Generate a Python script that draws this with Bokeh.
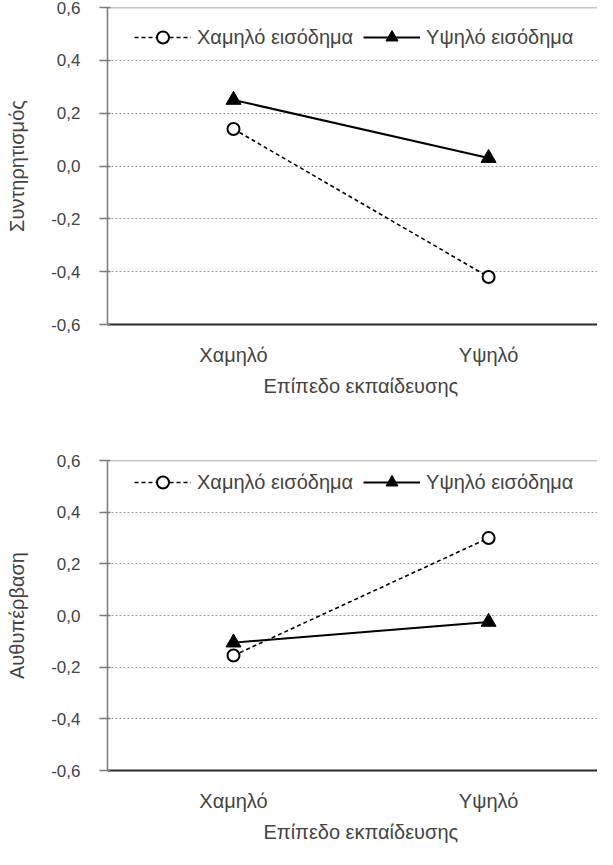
from bokeh.plotting import figure
from bokeh.models import (Range1d, FixedTicker, CustomJSTickFormatter, Span, Legend,
                          LegendItem, Title)
from bokeh.layouts import column
from bokeh.embed import file_html
from bokeh.resources import INLINE

# ---- data ----
education_levels = ["Χαμηλό", "Υψηλό"]
series_names = ["Χαμηλό εισόδημα", "Υψηλό εισόδημα"]

conservatism_low_income = [0.14, -0.42]
conservatism_high_income = [0.25, 0.03]

selftranscend_low_income = [-0.155, 0.30]
selftranscend_high_income = [-0.105, -0.025]

y_ticks = [-0.6, -0.4, -0.2, 0.0, 0.2, 0.4, 0.6]
grid_ticks = [-0.4, -0.2, 0.0, 0.2, 0.4]

y_titles = ["Συντηρητισμός", "Αυθυπέρβαση"]
x_title = "Επίπεδο εκπαίδευσης"

FONT = "Liberation Sans"
TXT = "#444444"
NUM_SIZE = "17px"
TXT_SIZE = "20px"


def make_panel(low_vals, high_vals, y_title, height, top_border, bottom_border, legend_y):
    xs = list(range(len(education_levels)))
    p = figure(width=597, height=height, output_backend="svg", toolbar_location=None,
               x_range=Range1d(-0.494, 1.427), y_range=Range1d(-0.6, 0.6),
               min_border_left=107, min_border_right=0,
               min_border_top=top_border, min_border_bottom=bottom_border)
    p.outline_line_color = None
    p.background_fill_color = "white"
    p.border_fill_color = "white"

    # grid
    p.xgrid.visible = False
    p.ygrid.ticker = FixedTicker(ticks=grid_ticks)
    p.ygrid.grid_line_color = "#9a9a9a"
    p.ygrid.grid_line_dash = "2 2"
    p.ygrid.grid_line_width = 1

    # top border line
    p.add_layout(Span(location=0.6, dimension="width", line_color="#8c8c8c", line_width=1.5))

    # y axis
    ya = p.yaxis[0]
    ya.ticker = FixedTicker(ticks=y_ticks)
    ya.formatter = CustomJSTickFormatter(code="return tick.toFixed(1).replace('.', ',');")
    ya.axis_line_color = "#7a7a7a"
    ya.axis_line_width = 1.5
    ya.major_tick_line_color = "#7a7a7a"
    ya.major_tick_line_width = 1.5
    ya.major_tick_out = 8
    ya.major_tick_in = 3
    ya.minor_tick_line_color = None
    ya.major_label_standoff = 19
    ya.major_label_text_font = FONT
    ya.major_label_text_font_size = NUM_SIZE
    ya.major_label_text_color = TXT
    ya.axis_label = y_title
    ya.axis_label_text_font = FONT
    ya.axis_label_text_font_size = TXT_SIZE
    ya.axis_label_text_font_style = "normal"
    ya.axis_label_text_color = TXT
    ya.axis_label_standoff = 20

    # x axis
    xa = p.xaxis[0]
    xa.ticker = FixedTicker(ticks=xs)
    xa.major_label_overrides = {i: lab for i, lab in enumerate(education_levels)}
    xa.axis_line_color = "#2a2a2a"
    xa.axis_line_width = 2
    xa.major_tick_out = 0
    xa.major_tick_in = 0
    xa.major_tick_line_color = None
    xa.minor_tick_line_color = None
    xa.major_label_standoff = 19
    xa.major_label_text_font = FONT
    xa.major_label_text_font_size = TXT_SIZE
    xa.major_label_text_color = TXT
    p.add_layout(Title(text=x_title, align="left", offset=156, standoff=9,
                       text_font=FONT, text_font_size=TXT_SIZE, text_font_style="normal",
                       text_color=TXT), "below")

    # series
    l1 = p.line(xs, low_vals, line_color="black", line_width=1.6, line_dash="4 3")
    s1 = p.scatter(xs, low_vals, marker="circle", size=12, fill_color="white",
                   line_color="black", line_width=2)
    l2 = p.line(xs, high_vals, line_color="black", line_width=2)
    s2 = p.scatter(xs, high_vals, marker="triangle", size=15, fill_color="black",
                   line_color="black", line_width=1)

    legend = Legend(items=[LegendItem(label=series_names[0], renderers=[l1, s1]),
                           LegendItem(label=series_names[1], renderers=[l2, s2])],
                    orientation="horizontal", location=(27, legend_y),
                    glyph_width=57, glyph_height=30, label_height=24,
                    label_standoff=6, spacing=10, padding=0, margin=0,
                    border_line_color=None, background_fill_alpha=0,
                    label_text_font=FONT, label_text_font_size=TXT_SIZE,
                    label_text_color=TXT)
    p.add_layout(legend, "center")
    return p


p1 = make_panel(conservatism_low_income, conservatism_high_income, y_titles[0],
                432, 7, 108, 272)
p2 = make_panel(selftranscend_low_income, selftranscend_high_income, y_titles[1],
                415, 28, 69, 273)

layout = column(p1, p2, spacing=0)
open("out.html", "w").write(file_html(layout, INLINE))
